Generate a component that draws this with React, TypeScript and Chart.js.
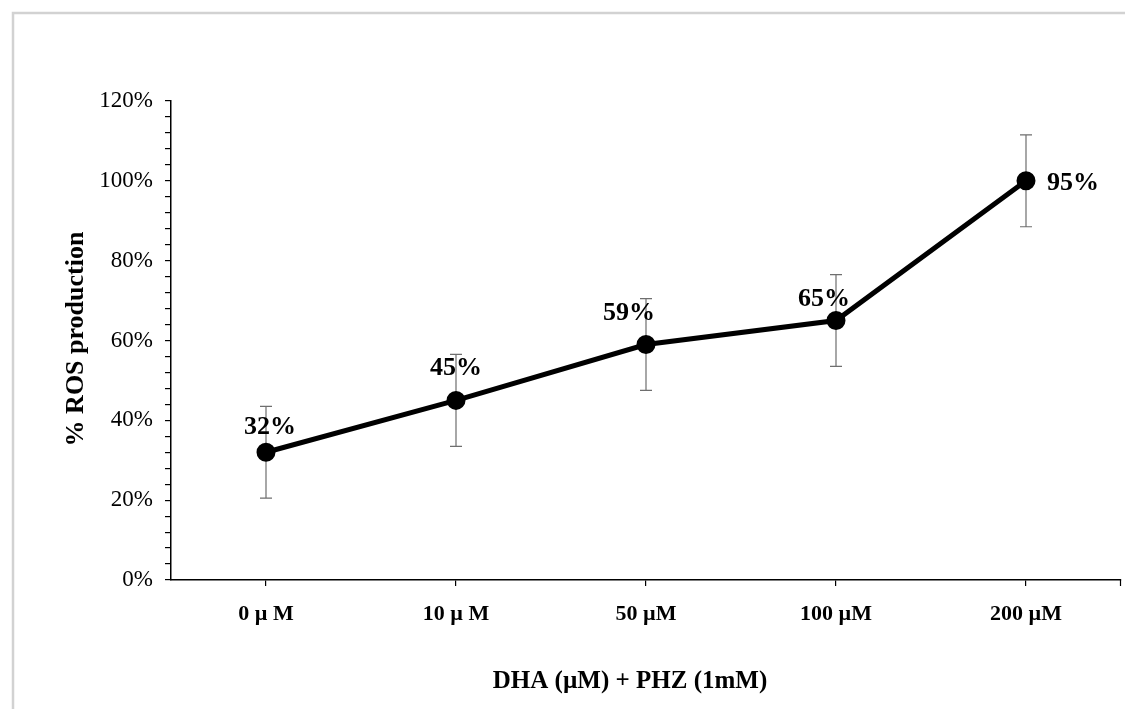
import React, { useEffect, useRef } from "react";
import { Chart, registerables } from "chart.js";

Chart.register(...registerables);

const categories = ["0 µ M", "10 µ M", "50 µM", "100 µM", "200 µM"];
const rosValues = [32, 45, 59, 65, 100];
const errorValues = [11.5, 11.5, 11.5, 11.5, 11.5];
const pointLabels = ["32%", "45%", "59%", "65%", "95%"];
const yTickStep = 4;
const yMajorStep = 20;
const yMin = 0;
const yMax = 120;
const yTitle = "% ROS production";
const xTitle = "DHA (µM) + PHZ (1mM)";

const labelOffsets = [
  [4, -25],
  [0, -32],
  [-17, -31],
  [-12, -21],
  [47, 2],
];

const serif = "'Liberation Serif', 'Times New Roman', serif";

const customPlugin = {
  id: "custom",
  beforeDraw(chart: any) {
    const ctx = chart.ctx;
    ctx.save();
    ctx.fillStyle = "#ffffff";
    ctx.fillRect(0, 0, chart.width, chart.height);
    ctx.strokeStyle = "#d2d2d2";
    ctx.lineWidth = 2.5;
    ctx.beginPath();
    ctx.moveTo(13, chart.height);
    ctx.lineTo(13, 13);
    ctx.lineTo(chart.width, 13);
    ctx.stroke();
    ctx.restore();
  },
  beforeDatasetsDraw(chart: any) {
    const ctx = chart.ctx;
    const x = chart.scales.x;
    const y = chart.scales.y;
    ctx.save();
    ctx.strokeStyle = "#6e6e6e";
    ctx.lineWidth = 1.2;
    rosValues.forEach((v, i) => {
      const px = x.getPixelForValue(i);
      const top = y.getPixelForValue(v + errorValues[i]);
      const bot = y.getPixelForValue(v - errorValues[i]);
      ctx.beginPath();
      ctx.moveTo(px, top);
      ctx.lineTo(px, bot);
      ctx.moveTo(px - 6, top);
      ctx.lineTo(px + 6, top);
      ctx.moveTo(px - 6, bot);
      ctx.lineTo(px + 6, bot);
      ctx.stroke();
    });
    ctx.restore();
  },
  afterDraw(chart: any) {
    const ctx = chart.ctx;
    const x = chart.scales.x;
    const y = chart.scales.y;
    const area = chart.chartArea;
    ctx.save();
    ctx.strokeStyle = "#000";
    ctx.lineWidth = 1.2;
    ctx.beginPath();
    ctx.moveTo(area.right - 0.5, area.bottom);
    ctx.lineTo(area.right - 0.5, area.bottom + 6);
    ctx.stroke();
    ctx.fillStyle = "#000";
    ctx.font = `bold 26px ${serif}`;
    ctx.textAlign = "center";
    ctx.textBaseline = "middle";
    rosValues.forEach((v, i) => {
      const px = x.getPixelForValue(i);
      const py = y.getPixelForValue(v);
      ctx.fillText(pointLabels[i], px + labelOffsets[i][0], py + labelOffsets[i][1]);
    });
    ctx.font = `bold 25px ${serif}`;
    ctx.fillText(xTitle, 630, 682);
    ctx.font = `bold 26px ${serif}`;
    ctx.translate(76, 339);
    ctx.rotate(-Math.PI / 2);
    ctx.fillText(yTitle, 0, 0);
    ctx.restore();
  },
};

export default function App() {
  const ref = useRef<HTMLCanvasElement>(null);
  useEffect(() => {
    if (!ref.current) return;
    const chart = new Chart(ref.current, {
      type: "line",
      data: {
        labels: categories,
        datasets: [
          {
            data: rosValues,
            borderColor: "#000",
            backgroundColor: "#000",
            borderWidth: 5,
            pointRadius: 7,
            pointBackgroundColor: "#000",
            pointBorderColor: "#000",
            tension: 0,
            clip: false,
          },
        ],
      },
      options: {
        responsive: false,
        animation: false,
        layout: { autoPadding: false, padding: { left: 0, right: 4, top: 101, bottom: 0 } },
        plugins: {
          legend: { display: false },
          tooltip: { enabled: false },
        },
        scales: {
          x: {
            type: "category",
            offset: true,
            afterFit(scale: any) {
              scale.height = 129;
              scale.paddingLeft = 0;
              scale.paddingRight = 0;
            },
            grid: {
              display: true,
              offset: false,
              drawOnChartArea: false,
              drawTicks: true,
              tickLength: 6,
              color: "#000",
              lineWidth: 1.2,
            },
            border: { display: true, color: "#000", width: 1.5 },
            ticks: {
              color: "#000",
              padding: 15,
              font: { family: serif, size: 22, weight: "bold" },
              maxRotation: 0,
              autoSkip: false,
            },
          },
          y: {
            min: yMin,
            max: yMax,
            afterFit(scale: any) {
              scale.width = 171;
              scale.paddingTop = 0;
              scale.paddingBottom = 0;
            },
            grid: {
              display: true,
              drawOnChartArea: false,
              drawTicks: true,
              tickLength: 6,
              color: "#000",
              lineWidth: 1.2,
            },
            border: { display: true, color: "#000", width: 1.5 },
            ticks: {
              stepSize: yTickStep,
              autoSkip: false,
              color: "#000",
              padding: 12,
              font: { family: serif, size: 23 },
              callback: (v: any) => (Number(v) % yMajorStep === 0 ? `${v}%` : ""),
            },
          },
        },
      },
      plugins: [customPlugin],
    });
    return () => chart.destroy();
  }, []);
  return (
    <div style={{ position: "absolute", left: 0, top: 0, width: 1125, height: 709, background: "#fff" }}>
      <canvas ref={ref} width={1125} height={709} style={{ display: "block", width: 1125, height: 709 }} />
    </div>
  );
}
